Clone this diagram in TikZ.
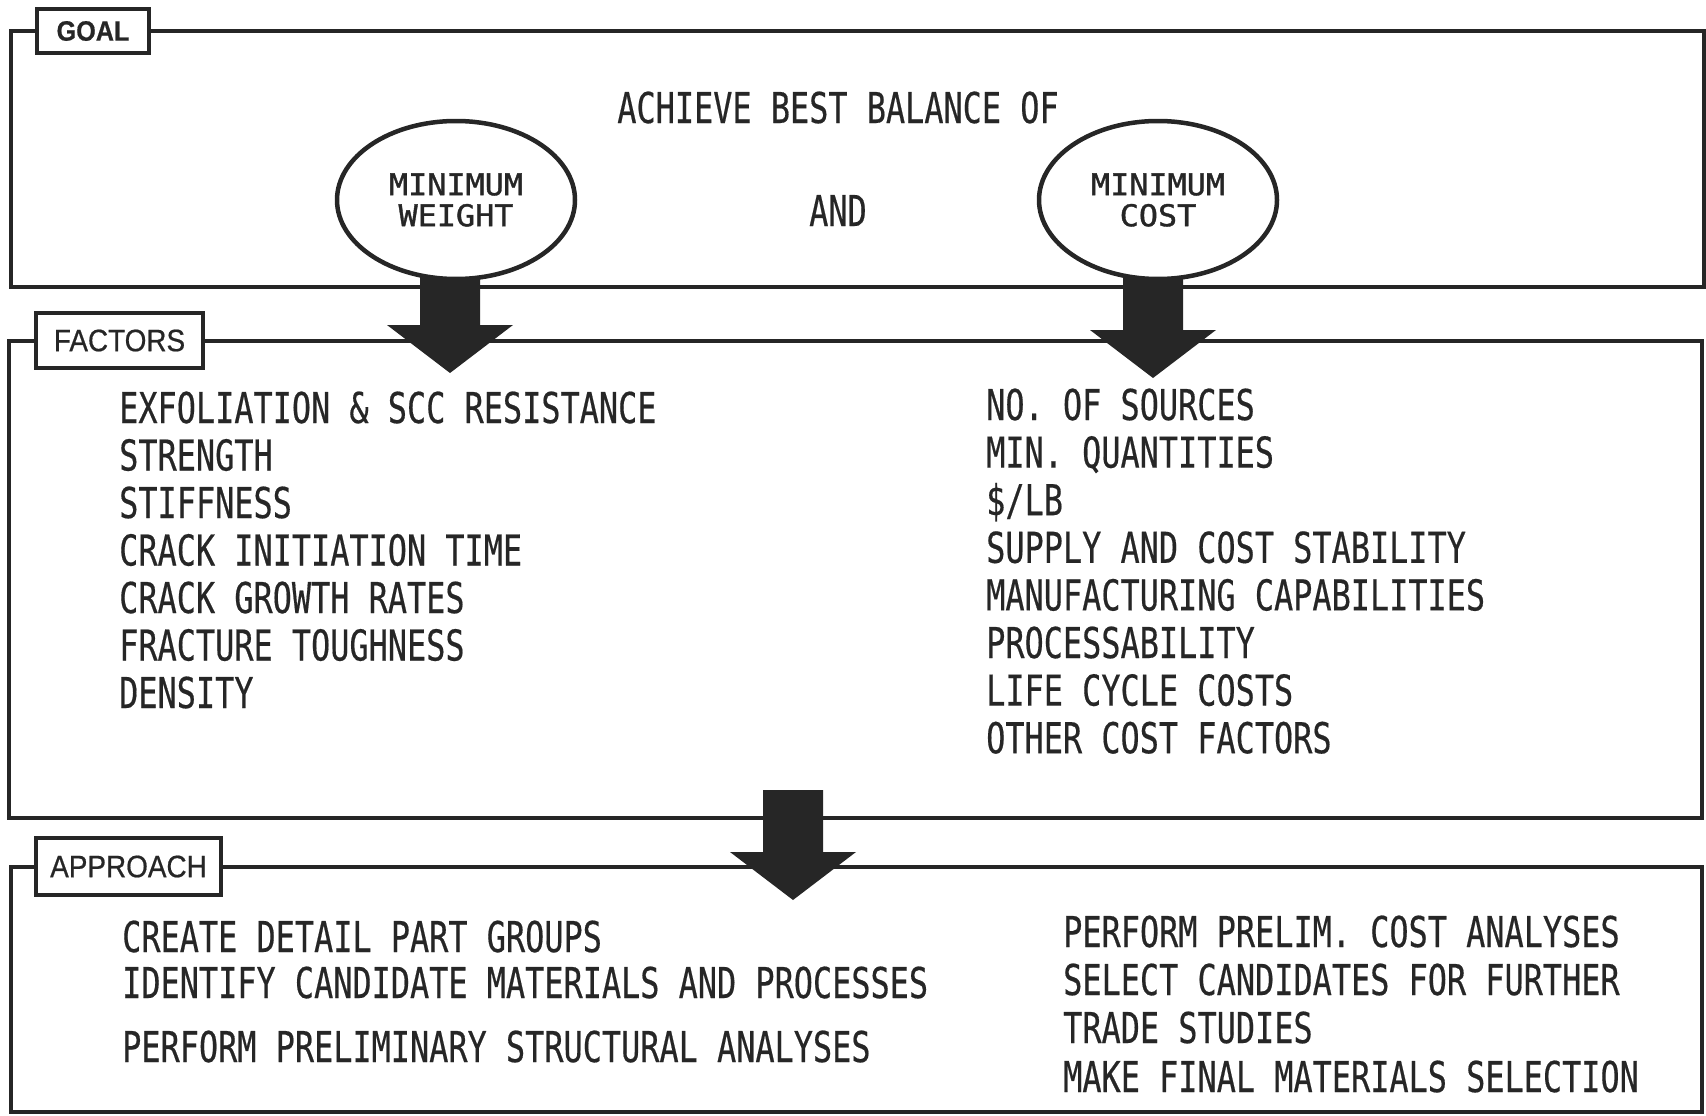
\documentclass[tikz,border=0pt]{standalone}
\usepackage{fontspec}
\usepackage{tikz}
\usetikzlibrary{shapes.geometric}

\newfontfamily\letterfont[FakeStretch=0.75, FakeBold=0.4]{DejaVu Sans Mono}
\newfontfamily\ovalfont[FakeStretch=1.06, FakeBold=1.2]{DejaVu Sans Mono}
\newfontfamily\tagfont[FakeStretch=0.9, FakeBold=0.6]{Liberation Sans}
\colorlet{ink}{black!85}

\tikzset{
    frame/.style={draw=ink, line width=4pt},
    tagbox/.style={draw=ink, line width=3.5pt, fill=white, inner sep=0pt, text=ink,
        font=\tagfont\fontsize{31}{31}\selectfont},
    oval/.style={ellipse, draw=ink, line width=4.5pt, fill=white, inner sep=0pt,
        minimum width=238, minimum height=158, align=center, text=ink,
        font=\ovalfont\fontsize{30}{31}\selectfont},
    item/.style={anchor=base west, inner sep=0pt, text=ink,
        font=\letterfont\fontsize{42.5}{47.5}\selectfont},
    arrowfill/.style={fill=ink}
}

% tip, length
\newcommand{\blockarrow}[2]{%
    \fill[arrowfill, shift={(#1)}] (-30,-#2) -- (30,-#2) -- (30,-48) -- (63,-48)
        -- (0,0) -- (-63,-48) -- (-30,-48) -- cycle;}

\begin{document}
\begin{tikzpicture}[x=1pt, y=-1pt]
    \useasboundingbox (0,0) rectangle (1706,1116);

    % frames
    \node[tagbox, font=\tagfont\bfseries\fontsize{28}{28}\selectfont,
        minimum width=112, minimum height=44] (goallbl) at (93,31) {GOAL};
    \node[tagbox, minimum width=167, minimum height=55] (faclbl) at (119.5,340.5) {FACTORS};
    \node[tagbox, minimum width=185, minimum height=57] (applbl) at (128.5,866.5) {APPROACH};
    \coordinate (goalsw) at (11,287);
    \coordinate (goalse) at (1704,287);
    \coordinate (facsw) at (9,818);
    \coordinate (facse) at (1702,818);
    \coordinate (appsw) at (11,1112);
    \coordinate (appse) at (1702,1112);
    \draw[frame] (goallbl.east) -| (goalse) -| (goalsw) |- (goallbl.west);
    \draw[frame] (faclbl.east) -| (facse) -| (facsw) |- (faclbl.west);
    \draw[frame] (applbl.east) -| (appse) -| (appsw) |- (applbl.west);

    % arrows
    \coordinate (wttip) at (450,373);
    \coordinate (csttip) at (1153,378);
    \coordinate (factip) at (793,900);
    \blockarrow{wttip}{110}
    \blockarrow{csttip}{115}
    \blockarrow{factip}{110}

    % goal
    \node[oval] (wt) at (456,200) {MINIMUM\\WEIGHT};
    \node[oval] (cst) at (1158,200) {MINIMUM\\COST};
    \node[item, anchor=base] (head) at (838,123) {ACHIEVE BEST BALANCE OF};
    \node[item, anchor=base] (and) at (838,226) {AND};

    % factors
    \node[item] (w1) at (119,423) {EXFOLIATION \& SCC RESISTANCE};
    \node[item] (w2) at (119,470.5) {STRENGTH};
    \node[item] (w3) at (119,518) {STIFFNESS};
    \node[item] (w4) at (119,565.5) {CRACK INITIATION TIME};
    \node[item] (w5) at (119,613) {CRACK GROWTH RATES};
    \node[item] (w6) at (119,660.5) {FRACTURE TOUGHNESS};
    \node[item] (w7) at (119,708) {DENSITY};
    \node[item] (c1) at (986,420) {NO. OF SOURCES};
    \node[item] (c2) at (986,467.6) {MIN. QUANTITIES};
    \node[item] (c3) at (986,515.2) {\$/LB};
    \node[item] (c4) at (986,562.8) {SUPPLY AND COST STABILITY};
    \node[item] (c5) at (986,610.4) {MANUFACTURING CAPABILITIES};
    \node[item] (c6) at (986,658) {PROCESSABILITY};
    \node[item] (c7) at (986,705.6) {LIFE CYCLE COSTS};
    \node[item] (c8) at (986,753.2) {OTHER COST FACTORS};

    % approach
    \node[item] (a1) at (122,952) {CREATE DETAIL PART GROUPS};
    \node[item] (a2) at (122,998) {IDENTIFY CANDIDATE MATERIALS AND PROCESSES};
    \node[item] (a3) at (122,1062) {PERFORM PRELIMINARY STRUCTURAL ANALYSES};
    \node[item] (b1) at (1063,947) {PERFORM PRELIM. COST ANALYSES};
    \node[item] (b2) at (1063,995) {SELECT CANDIDATES FOR FURTHER};
    \node[item] (b3) at (1063,1043) {TRADE STUDIES};
    \node[item] (b4) at (1063,1092) {MAKE FINAL MATERIALS SELECTION};
\end{tikzpicture}
\end{document}
